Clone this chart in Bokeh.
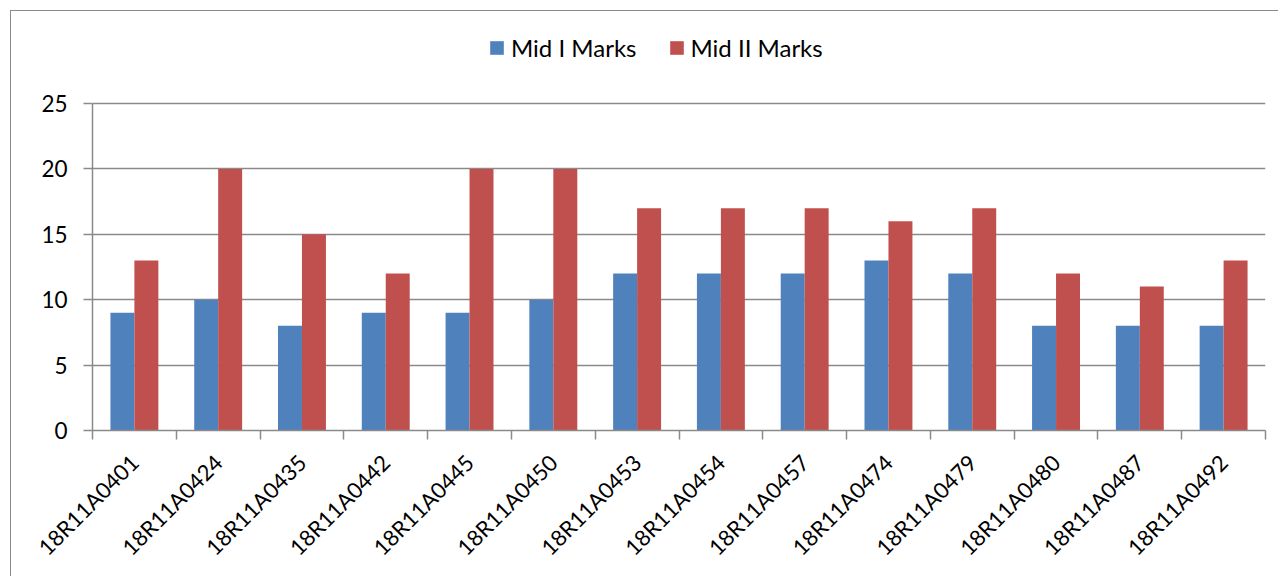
from bokeh.plotting import figure
from bokeh.models import ColumnDataSource, FixedTicker, Range1d, Legend, LegendItem
from bokeh.transform import dodge
from bokeh.embed import file_html
from bokeh.resources import INLINE
import math

students = ["18R11A0401", "18R11A0424", "18R11A0435", "18R11A0442", "18R11A0445",
            "18R11A0450", "18R11A0453", "18R11A0454", "18R11A0457", "18R11A0474",
            "18R11A0479", "18R11A0480", "18R11A0487", "18R11A0492"]
mid1 = [9, 10, 8, 9, 9, 10, 12, 12, 12, 13, 12, 8, 8, 8]
mid2 = [13, 20, 15, 12, 20, 20, 17, 17, 17, 16, 17, 12, 11, 13]
y_ticks = [0, 5, 10, 15, 20, 25]
series_names = ["Mid I Marks", "Mid II Marks"]

FONT = "Lato"
GRAY = "#8a8a8a"

# layout (pixels inside the figure)
FRAME_TOP = 9
FRAME_BOTTOM = 419
Y25_PX = 92          # where 25 sits
frame_h = FRAME_BOTTOM - FRAME_TOP
y_end = 25 * frame_h / (FRAME_BOTTOM - Y25_PX)

xs = list(range(1, len(students) + 1))
source = ColumnDataSource(dict(x=xs, mid1=mid1, mid2=mid2))

p = figure(width=1268, height=566,
           x_range=Range1d(0.5, len(students) + 0.5), y_range=Range1d(0, y_end),
           output_backend="svg", toolbar_location=None,
           min_border_left=81, min_border_right=14, min_border_top=FRAME_TOP,
           min_border_bottom=566 - FRAME_BOTTOM)
p.styles = {"margin-left": "10px", "margin-top": "10px",
            "border-left": "1px solid #8a8a8a", "border-top": "1px solid #8a8a8a"}
p.outline_line_color = None
p.background_fill_color = "white"
p.border_fill_color = "white"

r1 = p.vbar(x=dodge("x", -0.143, range=p.x_range), top="mid1", width=0.286, bottom=0,
            source=source, fill_color="#4F81BD", line_color=None)
r2 = p.vbar(x=dodge("x", 0.143, range=p.x_range), top="mid2", width=0.286, bottom=0,
            source=source, fill_color="#C0504D", line_color=None)

# x axis: labels at category centres, ticks at boundaries
xa = p.xaxis[0]
xa.ticker = FixedTicker(ticks=xs, minor_ticks=[i + 0.5 for i in range(0, len(students) + 1)])
xa.major_label_overrides = {i: s for i, s in zip(xs, students)}
xa.major_tick_in = 0
xa.major_tick_out = 0
xa.minor_tick_in = 0
xa.minor_tick_out = 9
xa.minor_tick_line_color = GRAY
xa.minor_tick_line_width = 1.5
xa.axis_line_color = GRAY
xa.axis_line_width = 1.5
xa.major_label_orientation = math.pi / 4
xa.major_label_text_font = FONT
xa.major_label_text_font_size = "22px"
xa.major_label_text_color = "black"
xa.major_label_standoff = 19

ya = p.yaxis[0]
ya.ticker = FixedTicker(ticks=y_ticks)
ya.bounds = (0, 25)
ya.major_tick_in = 0
ya.major_tick_out = 9
ya.major_tick_line_color = GRAY
ya.major_tick_line_width = 1.5
ya.minor_tick_line_color = None
ya.axis_line_color = GRAY
ya.axis_line_width = 1.5
ya.major_label_text_font = FONT
ya.major_label_text_font_size = "22.5px"
ya.major_label_text_color = "black"
ya.major_label_standoff = 16

p.xgrid.grid_line_color = None
p.ygrid.ticker = FixedTicker(ticks=y_ticks)
p.ygrid.grid_line_color = GRAY
p.ygrid.grid_line_width = 1.5

legend = Legend(items=[LegendItem(label=series_names[0], renderers=[r1]),
                       LegendItem(label=series_names[1], renderers=[r2])],
                orientation="horizontal", location=(396, 368),
                padding=0, margin=0, spacing=31, label_standoff=6,
                glyph_width=17, glyph_height=17, label_height=22,
                border_line_color=None, background_fill_alpha=0,
                label_text_font=FONT, label_text_font_size="24px", label_text_color="black")
p.add_layout(legend)

open("out.html", "w").write(file_html(p, INLINE))
